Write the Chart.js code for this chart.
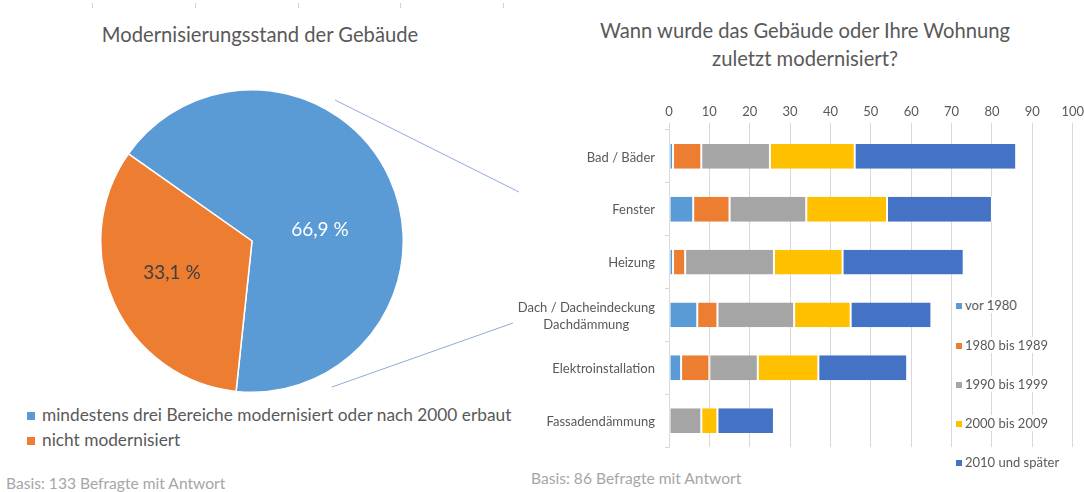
<!DOCTYPE html>
<html>
<head>
<meta charset="utf-8">
<title>Modernisierung der Gebäude</title>
<script src="https://cdn.jsdelivr.net/npm/chart.js"></script>
<style>
    body { margin: 0; width: 1084px; height: 492px; position: relative; overflow: hidden; background: #fff; font-family: Lato, sans-serif; color: #595959; }
    .abs { position: absolute; white-space: nowrap; }
    .title { font-size: 20.2px; text-align: center; }
    .note { font-size: 15.6px; color: #a6a6a6; }
    .box { display: inline-block; width: 8px; height: 8px; margin-right: 7px; vertical-align: 1px; }
    .lg2 { position: absolute; font-size: 13px; background: #fff; padding-right: 2px; line-height: 16px; }
    .lg2 .box { width: 6px; height: 6px; margin-right: 3px; }
    .mark { position: absolute; top: 3px; width: 1px; height: 5px; background: #d0d0d0; }
</style>
</head>
<body>
    <div class="mark" style="left:92px"></div>
    <div class="mark" style="left:195px"></div>
    <div class="mark" style="left:298px"></div>
    <div class="mark" style="left:400px"></div>
    <div class="mark" style="left:503px"></div>

    <div class="abs title" style="left:60px; width:400px; top:22px;">Modernisierungsstand der Gebäude</div>
    <div class="abs title" style="left:555px; width:500px; top:16px; line-height:28px;">Wann wurde das Gebäude oder Ihre Wohnung<br>zuletzt modernisiert?</div>

    <svg class="abs" style="left:0; top:0;" width="1084" height="492">
        <line x1="335" y1="100" x2="519" y2="192" stroke="#8faadc" stroke-width="1"/>
        <line x1="513" y1="323" x2="332" y2="387" stroke="#8faadc" stroke-width="1"/>
    </svg>

    <div class="abs" style="left:100px; top:89px; width:304px; height:304px;">
        <canvas id="pieChart"></canvas>
    </div>
    <div id="pieLegend" class="abs" style="left:27px; top:402px; font-size:17.3px; line-height:25px;"></div>
    <div class="abs note" style="left:6px; top:474px;">Basis: 133 Befragte mit Antwort</div>

    <div class="abs" style="left:500px; top:90px; width:587px; height:370px;">
        <canvas id="barChart"></canvas>
    </div>
    <div id="barLegend"></div>
    <div class="abs note" style="left:531px; top:469px;">Basis: 86 Befragte mit Antwort</div>

<script>
    // Pie: Modernisierungsstand
    const pieLabels = ['mindestens drei Bereiche modernisiert oder nach 2000 erbaut', 'nicht modernisiert'];
    const pieValues = [66.9, 33.1];
    const pieColors = ['#5b9bd5', '#ed7d31'];

    // Bars: Wann zuletzt modernisiert (Anzahl Nennungen)
    const categories = ['Bad / Bäder', 'Fenster', 'Heizung', ['Dach / Dacheindeckung', 'Dachdämmung'], 'Elektroinstallation', 'Fassadendämmung'];
    const periods = ['vor 1980', '1980 bis 1989', '1990 bis 1999', '2000 bis 2009', '2010 und später'];
    const vor1980 = [1, 6, 1, 7, 3, 0];
    const bis1989 = [7, 9, 3, 5, 7, 0];
    const bis1999 = [17, 19, 22, 19, 12, 8];
    const bis2009 = [21, 20, 17, 14, 15, 4];
    const ab2010 = [40, 26, 30, 20, 22, 14];
    const periodColors = ['#5b9bd5', '#ed7d31', '#a5a5a5', '#ffc000', '#4472c4'];
    const xMax = 100;
    const xStep = 10;

    const FONT = 'Lato, sans-serif';

    // percentage labels inside the pie slices
    const pieLabelOffsets = [[68, -11], [-80, 32]];
    const pieLabelColors = ['#ffffff', '#404040'];
    const pieText = {
        id: 'pieText',
        afterDatasetsDraw(chart) {
            const ctx = chart.ctx;
            const arcs = chart.getDatasetMeta(0).data;
            ctx.save();
            ctx.font = '19px ' + FONT;
            ctx.textAlign = 'center';
            ctx.textBaseline = 'middle';
            arcs.forEach((arc, i) => {
                ctx.fillStyle = pieLabelColors[i];
                const txt = pieValues[i].toFixed(1).replace('.', ',') + ' %';
                ctx.fillText(txt, arc.x + pieLabelOffsets[i][0], arc.y + pieLabelOffsets[i][1]);
            });
            ctx.restore();
        }
    };

    new Chart(document.getElementById('pieChart'), {
        type: 'pie',
        data: {
            labels: pieLabels,
            datasets: [{
                data: pieValues,
                backgroundColor: pieColors,
                borderColor: '#ffffff',
                borderWidth: 1.5
            }]
        },
        options: {
            responsive: true,
            maintainAspectRatio: false,
            animation: false,
            rotation: -54.8,
            layout: { padding: 0 },
            plugins: { legend: { display: false }, tooltip: { enabled: false } }
        },
        plugins: [pieText]
    });

    document.getElementById('pieLegend').innerHTML = pieLabels.map((l, i) =>
        '<div><span class="box" style="background:' + pieColors[i] + '"></span>' + l + '</div>').join('');

    // category labels: block right aligned, lines centred on each other
    const LABEL_RIGHT = 155;
    const yLabels = {
        id: 'yLabels',
        afterDraw(chart) {
            const ctx = chart.ctx;
            const scale = chart.scales.y;
            ctx.save();
            ctx.font = '13px ' + FONT;
            ctx.fillStyle = '#595959';
            ctx.textAlign = 'center';
            ctx.textBaseline = 'middle';
            categories.forEach((c, i) => {
                const lines = Array.isArray(c) ? c : [c];
                const w = Math.max(...lines.map(s => ctx.measureText(s).width));
                const y = scale.getPixelForTick(i) + 1;
                const lh = 17;
                lines.forEach((s, k) => {
                    ctx.fillText(s, LABEL_RIGHT - w / 2, y + (k - (lines.length - 1) / 2) * lh);
                });
            });
            ctx.restore();
        }
    };

    const series = [vor1980, bis1989, bis1999, bis2009, ab2010];
    new Chart(document.getElementById('barChart'), {
        type: 'bar',
        data: {
            labels: categories,
            datasets: series.map((d, i) => ({
                label: periods[i],
                data: d,
                backgroundColor: periodColors[i],
                borderColor: '#ffffff',
                borderWidth: { left: 1, right: 1, top: 0, bottom: 0 },
                borderSkipped: false,
                barPercentage: 0.47,
                categoryPercentage: 1
            }))
        },
        options: {
            indexAxis: 'y',
            responsive: true,
            maintainAspectRatio: false,
            animation: false,
            layout: { padding: { right: 0, bottom: 13 } },
            scales: {
                x: {
                    position: 'top',
                    stacked: true,
                    min: 0,
                    max: xMax,
                    ticks: { stepSize: xStep, color: '#595959', font: { family: FONT, size: 13 }, padding: 3 },
                    grid: { color: '#d9d9d9', tickLength: 7 },
                    border: { display: false },
                    afterFit(scale) { scale.height = 40; }
                },
                y: {
                    stacked: true,
                    ticks: { display: false },
                    grid: { drawOnChartArea: false, color: '#d9d9d9', tickLength: 4 },
                    border: { color: '#d9d9d9' },
                    afterFit(scale) { scale.width = 169; }
                }
            },
            plugins: { legend: { display: false }, tooltip: { enabled: false } }
        },
        plugins: [yLabels]
    });

    const legendY = [305, 345, 384, 423, 462];
    document.getElementById('barLegend').innerHTML = periods.map((p, i) =>
        '<div class="lg2" style="left:956px; top:' + (legendY[i] - 8) + 'px;"><span class="box" style="background:' +
        periodColors[i] + '"></span>' + p + '</div>').join('');
</script>
</body>
</html>
